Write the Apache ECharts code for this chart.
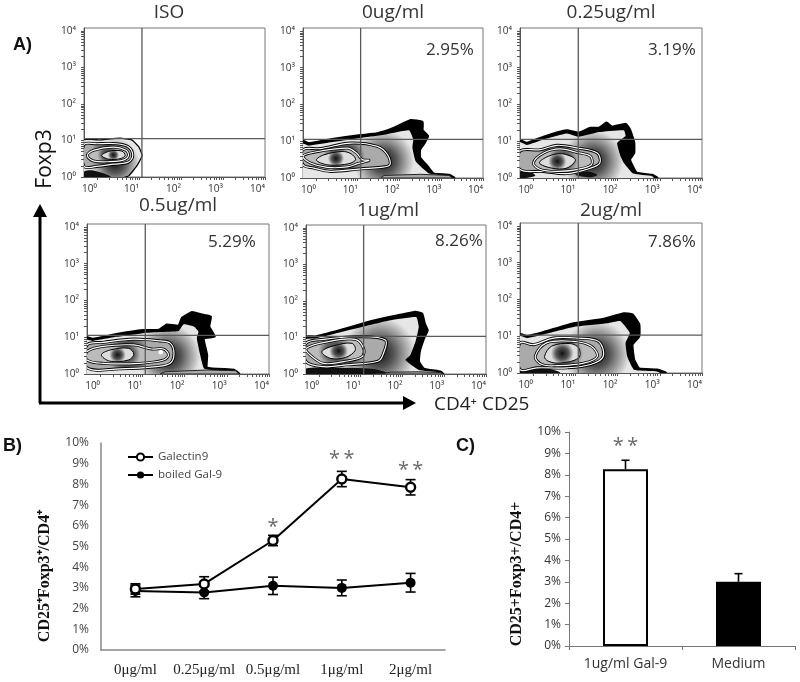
<!DOCTYPE html>
<html>
<head>
<meta charset="utf-8">
<style>
  html, body { margin: 0; padding: 0; background: #fff; }
  #main { width: 800px; height: 682px; }
</style>
<script src="https://cdn.jsdelivr.net/npm/echarts@6/dist/echarts.min.js"></script>
</head>
<body>
<div id="main"></div>
<script>
// panel A: titles, percentages, gates (log10 units)
var panelTitles = ['ISO', '0ug/ml', '0.25ug/ml', '0.5ug/ml', '1ug/ml', '2ug/ml']
var panelPercents = ['', '2.95%', '3.19%', '5.29%', '8.26%', '7.86%']
var gateX = [1.07, 1.07, 1.07, 1.07, 1.07, 1.07]
var gateY = [1.05, 1.05, 1.05, 1.05, 1.03, 1.03]
var decades = [0, 1, 2, 3, 4]
var decadeMinor = [0.3, 0.48, 0.6, 0.7, 0.78, 0.85, 0.9, 0.95]

// contours, [log10 CD25, log10 Foxp3]
var isoOuter = [[-.31,1],[.07,1],[.55,1.05],[.82,1],[.98,.82],[1.06,.59],[.94,.32],[.75,.05],[.63,0],[-.31,0]]
var isoC1 = [[-.31,.89],[-.01,.91],[.47,.91],[.75,.82],[.85,.59],[.75,.41],[.39,.35],[-.01,.29],[-.31,.29]]
var isoC2 = [[-.23,.59],[-.09,.73],[.39,.82],[.69,.73],[.75,.59],[.64,.47],[.31,.42],[-.09,.44]]
var isoCore = [[.11,.59],[.31,.71],[.59,.71],[.67,.59],[.55,.5],[.27,.49]]
var isoBlob = [[-.31,.15],[-.09,.18],[.23,.07],[.33,0],[-.31,0]]

var zeroOuter = [[-.31,1],[-.17,.94],[.35,1.05],[1.07,1.16],[1.47,1.21],[1.87,1.36],[2.27,1.57],[2.55,1.52],[2.55,1.3],[2.68,1.14],[2.59,.94],[2.49,.77],[2.49,.55],[2.67,.32],[2.81,.12],[3.19,.08],[3.31,0],[-.31,0]]
var zeroBody = [[-.31,.93],[-.17,.88],[.35,.97],[1.07,1.09],[1.55,1.16],[2.23,1.3],[2.33,1.05],[2.31,.82],[2.39,.45],[2.71,.12],[3.15,.05],[3.23,0],[-.31,0]]
var zeroC1 = [[-.31,.77],[.11,.8],[.83,.95],[1.47,.86],[1.71,.64],[1.77,.36],[1.55,.29],[1.07,.25],[.35,.18],[-.05,.27],[-.31,.36]]
var zeroC2 = [[-.31,.59],[-.05,.7],[.75,.81],[.97,.68],[1.11,.5],[1.27,.48],[1,.39],[.75,.3],[.27,.29],[-.13,.41]]
var zeroCore = [[.01,.5],[.19,.63],[.63,.72],[.84,.66],[.95,.5],[.79,.39],[.35,.35],[.11,.41]]
var zeroFloor = [[1.55,0],[1.63,.07],[2.51,.1],[3.19,.07],[3.27,0]]

var quarterOuter = [[-.31,1.02],[-.15,.95],[.25,1.12],[.8,1.29],[1.08,1.23],[1.36,1.36],[1.56,1.36],[1.74,1.5],[1.87,1.39],[2.19,1.47],[2.29,1.32],[2.39,.97],[2.39,.68],[2.29,.5],[2.45,.14],[2.82,.08],[2.94,0],[-.31,0]]
var quarterBody = [[-.31,.97],[-.15,.9],[.25,1.05],[.8,1.21],[1.08,1.12],[1.56,1.25],[2.15,1.3],[2.19,1.14],[1.99,.95],[2.07,.59],[2.15,.41],[2.37,.12],[2.82,.05],[2.86,0],[-.31,0]]
var quarterC1 = [[-.31,.73],[.17,.77],[.56,.89],[1.03,.82],[1.52,.68],[1.58,.41],[1.36,.27],[.8,.12],[.25,.18],[-.31,.23]]
var quarterC2 = [[.01,.41],[.25,.68],[.64,.79],[1.03,.7],[1.36,.59],[1.38,.36],[1.03,.23],[.56,.18],[.17,.23]]
var quarterCore = [[.15,.41],[.36,.59],[.68,.66],[1,.5],[.8,.27],[.44,.27]]
var quarterBlobA = [[-.31,.18],[-.07,.18],[.05,.06],[-.31,0]]
var quarterBlobB = [[1,.09],[1.28,.18],[1.52,.09],[1.36,.02]]

var halfOuter = [[-.31,.99],[-.17,.95],[.39,1.08],[1.02,1.19],[1.4,1.2],[1.58,1.34],[1.86,1.31],[1.94,1.52],[2.18,1.68],[2.42,1.61],[2.62,1.56],[2.58,1.29],[2.71,1.02],[2.45,.97],[2.53,.52],[2.53,.17],[3.17,.11],[3.29,0],[-.31,0]]
var halfBody = [[-.31,.93],[-.17,.9],[.39,1.01],[1.02,1.11],[1.42,1.14],[1.86,1.17],[1.98,1.35],[2.22,1.29],[2.33,1.15],[2.29,.97],[2.37,.52],[2.47,.14],[3.17,.06],[3.23,0],[-.31,0]]
var halfC1 = [[-.31,.79],[.07,.86],[.79,.95],[1.42,.9],[1.66,.84],[1.75,.56],[1.66,.29],[1.34,.2],[.47,.14],[-.31,.17]]
var halfC2 = [[-.31,.61],[.07,.75],[.79,.79],[1.22,.68],[1.5,.68],[1.62,.52],[1.5,.38],[.94,.29],[.07,.29],[-.31,.38]]
var halfCore = [[.03,.52],[.23,.65],[.67,.7],[.8,.54],[.67,.38],[.23,.35]]
var halfFloor = [[1.42,0],[1.54,.06],[2.53,.11],[3.21,.09],[3.29,0]]
var halfDot = [[1.38,.59],[1.44,.65],[1.49,.59],[1.44,.53]]

var oneOuter = [[-.31,1.02],[-.09,1.02],[.51,1.2],[1.15,1.41],[1.71,1.56],[2.31,1.7],[2.47,1.65],[2.53,1.38],[2.6,1.2],[2.51,.97],[2.41,.61],[2.39,.34],[2.51,.14],[2.91,.06],[2.97,0],[-.31,0]]
var oneBody = [[-.31,.95],[-.09,.97],[.51,1.14],[1.15,1.32],[1.71,1.47],[2.33,1.56],[2.39,1.29],[2.31,.88],[2.19,.52],[2.07,.38],[2.39,.11],[2.87,.05],[2.91,0],[-.31,0]]
var oneC1 = [[-.31,.84],[.11,.95],[.91,1.02],[1.59,.93],[1.53,.52],[1.41,.35],[.67,.25],[.11,.2],[-.31,.34]]
var oneC2 = [[-.31,.7],[.19,.88],[.87,.95],[1.07,.7],[1.03,.47],[.59,.34],[.11,.29],[-.21,.52]]
var oneCore = [[.07,.61],[.35,.77],[.79,.84],[.87,.65],[.63,.45],[.27,.43]]
var oneBlob = [[-.31,.15],[.27,.17],[1.31,.14],[1.63,.02],[-.31,0]]
var oneFloor = [[1.47,0],[1.71,.05],[2.39,.06],[2.91,.04],[2.97,0]]

var twoOuter = [[-.31,1.05],[-.15,1],[.25,1.11],[.96,1.35],[1.68,1.47],[2.15,1.62],[2.35,1.59],[2.51,1.32],[2.51,1],[2.35,.77],[2.39,.36],[2.51,.12],[2.94,.09],[3.14,0],[-.31,0]]
var twoBody = [[-.31,1],[-.15,.95],[.25,1.05],[.96,1.25],[1.76,1.35],[2.07,1.41],[2.29,1.09],[2.19,.82],[2.23,.45],[2.39,.09],[2.9,.05],[3.02,0],[-.31,0]]
var twoC1 = [[-.31,.82],[.01,.77],[.48,.95],[1.04,.95],[1.55,.86],[1.66,.45],[1.36,.23],[.8,.14],[.09,.14],[-.31,.09]]
var twoC2 = [[.05,.45],[.32,.82],[.96,.86],[1.38,.73],[1.52,.45],[1.2,.27],[.57,.2],[.21,.23]]
var twoCore = [[.27,.45],[.44,.73],[.88,.8],[1.08,.68],[1.08,.41],[.64,.27],[.36,.32]]
var twoBlob = [[-.31,.07],[.25,.14],[.64,0],[-.31,0]]

// panel B
var doseLabels = ['0\u03bcg/ml', '0.25\u03bcg/ml', '0.5\u03bcg/ml', '1\u03bcg/ml', '2\u03bcg/ml']
var galectin9 = [2.95, 3.19, 5.29, 8.26, 7.86]
var galectin9Err = [0.25, 0.35, 0.25, 0.37, 0.37]
var boiledGal9 = [2.85, 2.78, 3.1, 3.0, 3.25]
var boiledGal9Err = [0.28, 0.3, 0.42, 0.38, 0.45]
var starsB = [[2, 5.95, '*'], [3, 9.2, '*\u2009*'], [4, 8.7, '*\u2009*']]

// panel C
var barLabels = ['1ug/ml Gal-9', 'Medium']
var barValues = [8.26, 3.0]
var barErr = [0.42, 0.38]
var starsC = [[0, 9.33, '*\u2009*']]

var layers = [
  [['outer', isoOuter], ['body', isoOuter], ['blob', isoBlob], ['c1', isoC1], ['c2', isoC2], ['core', isoCore]],
  [['outer', zeroOuter], ['body', zeroBody], ['floor', zeroFloor], ['c1', zeroC1], ['c2', zeroC2], ['core', zeroCore]],
  [['outer', quarterOuter], ['body', quarterBody], ['blob', quarterBlobA], ['blob', quarterBlobB], ['c1', quarterC1], ['c2', quarterC2], ['core', quarterCore]],
  [['outer', halfOuter], ['body', halfBody], ['floor', halfFloor], ['c1', halfC1], ['c2', halfC2], ['core', halfCore], ['dot', halfDot]],
  [['outer', oneOuter], ['body', oneBody], ['blob', oneBlob], ['floor', oneFloor], ['c1', oneC1], ['c2', oneC2], ['core', oneCore]],
  [['outer', twoOuter], ['body', twoBody], ['blob', twoBlob], ['c1', twoC1], ['c2', twoC2], ['core', twoCore]]
]

// plot frames in the page, left, top, width, height
var frames = [
  [84, 28, 181, 149],
  [303, 28, 180, 150],
  [520, 28, 182, 150],
  [87, 224, 182, 150],
  [306, 225, 180, 149],
  [520, 223, 182, 150]
]
// title centre and percentage left edge, in the page
var titleSpots = [[169, 13], [393, 13], [611, 13], [178, 206], [388, 211], [611, 211]]
var percentSpots = [[0, 0], [426, 50], [648, 50], [208, 242], [435, 241], [648, 242]]

var sansFont = '"Open Sans", sans-serif'
var serifFont = '"Liberation Serif", serif'
var sup = ['\u2070', '\u00b9', '\u00b2', '\u00b3', '\u2074']

var tickValues = []
decades.forEach(function (d) {
  tickValues.push(d)
  if (d < 4) decadeMinor.forEach(function (m) { tickValues.push(d + m) })
})

function radial(x, y, r, stops) {
  return new echarts.graphic.RadialGradient(x, y, r, stops.map(function (s) {
    return { offset: s[0], color: s[1] }
  }))
}

// fill and edge of each contour level
function layerShapes(kind) {
  if (kind === 'outer') return [{ fill: '#000', stroke: '#000', lineWidth: 2.5, smooth: 0.12 }]
  if (kind === 'body') return [{ fill: radial(0.55, 0.62, 0.62, [[0, '#111'], [0.4, '#555'], [0.75, '#aaa'], [1, '#e6e6e6']]), smooth: 0.12 }]
  if (kind === 'blob') return [{ fill: '#111', smooth: 0.3 }]
  if (kind === 'floor') return [{ fill: '#aaa', stroke: '#222', lineWidth: 1, smooth: 0 }]
  if (kind === 'c1') return [
    { fill: radial(0.5, 0.5, 0.62, [[0, '#222'], [0.6, '#555'], [1, '#aaa']]), stroke: '#000', lineWidth: 3, smooth: 0.35 },
    { stroke: '#fff', lineWidth: 1.2, smooth: 0.35 }
  ]
  if (kind === 'c2') return [
    { fill: radial(0.5, 0.5, 0.6, [[0, '#222'], [0.6, '#666'], [1, '#bbb']]), stroke: '#000', lineWidth: 2.8, smooth: 0.35 },
    { stroke: '#fff', lineWidth: 1.2, smooth: 0.35 }
  ]
  if (kind === 'core') return [
    { fill: radial(0.5, 0.5, 0.55, [[0, '#111'], [0.55, '#555'], [1, '#ddd']]), stroke: '#000', lineWidth: 1, smooth: 0.35 }
  ]
  return [{ fill: '#fff', smooth: 0.5 }]
}

function contourRender(panel) {
  return function (params, api) {
    var layer = panel[api.value(0)]
    var pts = layer[1].map(function (p) { return api.coord(p) })
    return {
      type: 'group',
      children: layerShapes(layer[0]).map(function (s) {
        return {
          type: 'polygon',
          shape: { points: pts, smooth: s.smooth },
          style: { fill: s.fill || 'none', stroke: s.stroke || 'none', lineWidth: s.lineWidth || 0 }
        }
      })
    }
  }
}

function errorRender(onlyUp) {
  return function (params, api) {
    var cat = api.value(0)
    var hi = api.coord([cat, api.value(2)])
    var lo = api.coord([cat, onlyUp ? api.value(3) : api.value(1)])
    var w = onlyUp ? 4 : 5
    var st = { stroke: '#000', lineWidth: 1.6 }
    var children = [
      { type: 'line', shape: { x1: hi[0], y1: hi[1], x2: lo[0], y2: lo[1] }, style: st },
      { type: 'line', shape: { x1: hi[0] - w, y1: hi[1], x2: hi[0] + w, y2: hi[1] }, style: st }
    ]
    if (!onlyUp) {
      children.push({ type: 'line', shape: { x1: lo[0] - w, y1: lo[1], x2: lo[0] + w, y2: lo[1] }, style: st })
    }
    return { type: 'group', children: children }
  }
}

function errData(values, errs) {
  return values.map(function (v, i) { return [i, v - errs[i], v + errs[i], v] })
}

var grid = []
var xAxis = []
var yAxis = []
var series = []
var graphic = []

frames.forEach(function (f, i) {
  grid.push({ left: f[0], top: f[1], width: f[2], height: f[3], show: true, borderColor: '#777', borderWidth: 1, backgroundColor: '#fff' })
  xAxis.push({
    gridIndex: i, type: 'value', min: -0.31, max: 4,
    splitLine: { show: false },
    axisLine: { show: true, onZero: false, lineStyle: { color: '#555' } },
    axisTick: { customValues: tickValues, length: 3, lineStyle: { color: '#555' } },
    axisLabel: {
      customValues: decades, align: 'right', margin: 7, fontSize: 10, color: '#333', fontFamily: sansFont,
      formatter: function (v) { return '10' + sup[v] }
    }
  })
  yAxis.push({
    gridIndex: i, type: 'value', min: 0, max: 4.08,
    splitLine: { show: false },
    axisLine: { show: true, onZero: false, lineStyle: { color: '#555' } },
    axisTick: { customValues: tickValues, length: 3, lineStyle: { color: '#555' } },
    axisLabel: {
      customValues: decades, margin: 8, fontSize: 10, color: '#333', fontFamily: sansFont,
      padding: [0, 0, 4, 0],
      formatter: function (v) { return '10' + sup[v] }
    }
  })
  series.push({
    type: 'custom', xAxisIndex: i, yAxisIndex: i, clip: true, silent: true,
    renderItem: contourRender(layers[i]),
    data: layers[i].map(function (l, k) { return [k] })
  })
  series.push({
    type: 'line', xAxisIndex: i, yAxisIndex: i, showSymbol: false, silent: true, z: 4,
    lineStyle: { color: '#5a5a5a', width: 1.3 },
    data: [[gateX[i], 0], [gateX[i], 4.08]]
  })
  series.push({
    type: 'line', xAxisIndex: i, yAxisIndex: i, showSymbol: false, silent: true, z: 4,
    lineStyle: { color: '#5a5a5a', width: 1.3 },
    data: [[-0.31, gateY[i]], [4, gateY[i]]]
  })
  graphic.push({
    type: 'text', x: titleSpots[i][0], y: titleSpots[i][1],
    style: { text: panelTitles[i], font: '19px ' + sansFont, fill: '#333', align: 'center', verticalAlign: 'middle' }
  })
  if (panelPercents[i]) {
    graphic.push({
      type: 'text', x: percentSpots[i][0], y: percentSpots[i][1],
      style: { text: panelPercents[i], font: '17px ' + sansFont, fill: '#333', verticalAlign: 'middle' }
    })
  }
})

// panel B
grid.push({ left: 101, top: 443, width: 344, height: 207 })
xAxis.push({
  gridIndex: 6, type: 'category', data: doseLabels,
  axisLine: { lineStyle: { color: '#888', width: 1.5 } },
  axisTick: { show: false },
  axisLabel: { margin: 13, fontSize: 15, color: '#222', fontFamily: serifFont, interval: 0 }
})
yAxis.push({
  gridIndex: 6, type: 'value', min: 0, max: 10, interval: 1,
  splitLine: { show: false },
  axisLine: { show: true, lineStyle: { color: '#888', width: 1.5 } },
  axisTick: { show: false },
  axisLabel: { margin: 12, fontSize: 12, color: '#444', fontFamily: sansFont, formatter: '{value}%' }
})
series.push(
  { type: 'custom', xAxisIndex: 6, yAxisIndex: 6, silent: true, renderItem: errorRender(false), data: errData(galectin9, galectin9Err), z: 3 },
  { type: 'custom', xAxisIndex: 6, yAxisIndex: 6, silent: true, renderItem: errorRender(false), data: errData(boiledGal9, boiledGal9Err), z: 3 },
  {
    name: 'boiled Gal-9', type: 'line', xAxisIndex: 6, yAxisIndex: 6, data: boiledGal9, z: 4,
    symbol: 'circle', symbolSize: 10,
    lineStyle: { color: '#000', width: 2 },
    itemStyle: { color: '#000' }
  },
  {
    name: 'Galectin9', type: 'line', xAxisIndex: 6, yAxisIndex: 6, data: galectin9, z: 5,
    symbol: 'circle', symbolSize: 9,
    lineStyle: { color: '#000', width: 2 },
    itemStyle: { color: '#fff', borderColor: '#000', borderWidth: 2.4 }
  },
  {
    type: 'scatter', xAxisIndex: 6, yAxisIndex: 6, data: starsB, symbolSize: 0, silent: true, z: 6,
    label: {
      show: true, position: 'inside', fontSize: 20, color: '#444', fontFamily: sansFont,
      formatter: function (p) { return p.value[2] }
    }
  }
)

// panel C
grid.push({ left: 569, top: 432, width: 226, height: 214 })
xAxis.push({
  gridIndex: 7, type: 'category', data: barLabels,
  axisLine: { lineStyle: { color: '#777' } },
  axisTick: { show: true, length: 4, lineStyle: { color: '#777' } },
  axisLabel: { margin: 11, fontSize: 14, color: '#333', fontFamily: sansFont, interval: 0 }
})
yAxis.push({
  gridIndex: 7, type: 'value', min: 0, max: 10, interval: 1,
  splitLine: { show: false },
  axisLine: { show: true, lineStyle: { color: '#777' } },
  axisTick: { show: true, length: 4, lineStyle: { color: '#777' } },
  axisLabel: { margin: 8, fontSize: 12, color: '#333', fontFamily: sansFont, formatter: '{value}%' }
})
series.push(
  { type: 'custom', xAxisIndex: 7, yAxisIndex: 7, silent: true, renderItem: errorRender(true), data: errData(barValues, barErr), z: 1 },
  {
    type: 'bar', xAxisIndex: 7, yAxisIndex: 7, barWidth: 45, z: 2,
    data: [
      { value: barValues[0], itemStyle: { color: '#fff', borderColor: '#000', borderWidth: 2 } },
      { value: barValues[1], itemStyle: { color: '#000', borderColor: '#000', borderWidth: 2 } }
    ]
  },
  {
    type: 'scatter', xAxisIndex: 7, yAxisIndex: 7, data: starsC, symbolSize: 0, silent: true, z: 6,
    label: {
      show: true, position: 'inside', fontSize: 20, color: '#444', fontFamily: sansFont,
      formatter: function (p) { return p.value[2] }
    }
  }
)

// letters, rotated titles and the two big arrows
function upText(text, x, y, font) {
  return {
    type: 'text', x: x, y: y, rotation: Math.PI / 2,
    style: { text: text, font: font, fill: '#111', align: 'center', verticalAlign: 'middle' }
  }
}
graphic.push(
  { type: 'text', x: 13, y: 45, style: { text: 'A)', font: 'bold 18px "Liberation Sans", sans-serif', fill: '#111', verticalAlign: 'middle' } },
  { type: 'text', x: 3, y: 446, style: { text: 'B)', font: 'bold 18px "Liberation Sans", sans-serif', fill: '#111', verticalAlign: 'middle' } },
  { type: 'text', x: 456, y: 446, style: { text: 'C)', font: 'bold 18px "Liberation Sans", sans-serif', fill: '#111', verticalAlign: 'middle' } },
  upText('Foxp3', 45, 159, '21px ' + sansFont),
  upText('CD25\u207aFoxp3\u207a/CD4\u207a', 45, 576, 'bold 16px ' + serifFont),
  upText('CD25+Foxp3+/CD4+', 517, 574, 'bold 16px ' + serifFont),
  { type: 'text', x: 434, y: 405, style: { text: 'CD4\u207a CD25', font: '19px ' + sansFont, fill: '#222', verticalAlign: 'middle' } },
  { type: 'line', shape: { x1: 40, y1: 403, x2: 40, y2: 210 }, style: { stroke: '#000', lineWidth: 3 } },
  { type: 'line', shape: { x1: 39, y1: 403, x2: 410, y2: 403 }, style: { stroke: '#000', lineWidth: 3 } },
  { type: 'polygon', shape: { points: [[40, 204], [33, 217], [47, 217]] }, style: { fill: '#000' } },
  { type: 'polygon', shape: { points: [[416, 403], [403, 396], [403, 410]] }, style: { fill: '#000' } }
)

var myChart = echarts.init(document.getElementById('main'), null, { renderer: 'canvas' })
var option = {
  animation: false,
  backgroundColor: '#fff',
  legend: {
    data: ['Galectin9', 'boiled Gal-9'],
    orient: 'vertical', left: 127, top: 451, padding: 0,
    itemWidth: 25, itemHeight: 9, itemGap: 6,
    textStyle: { fontSize: 11.5, color: '#444', fontFamily: sansFont }
  },
  grid: grid,
  xAxis: xAxis,
  yAxis: yAxis,
  series: series,
  graphic: graphic
}
myChart.setOption(option, true)
</script>
</body>
</html>
